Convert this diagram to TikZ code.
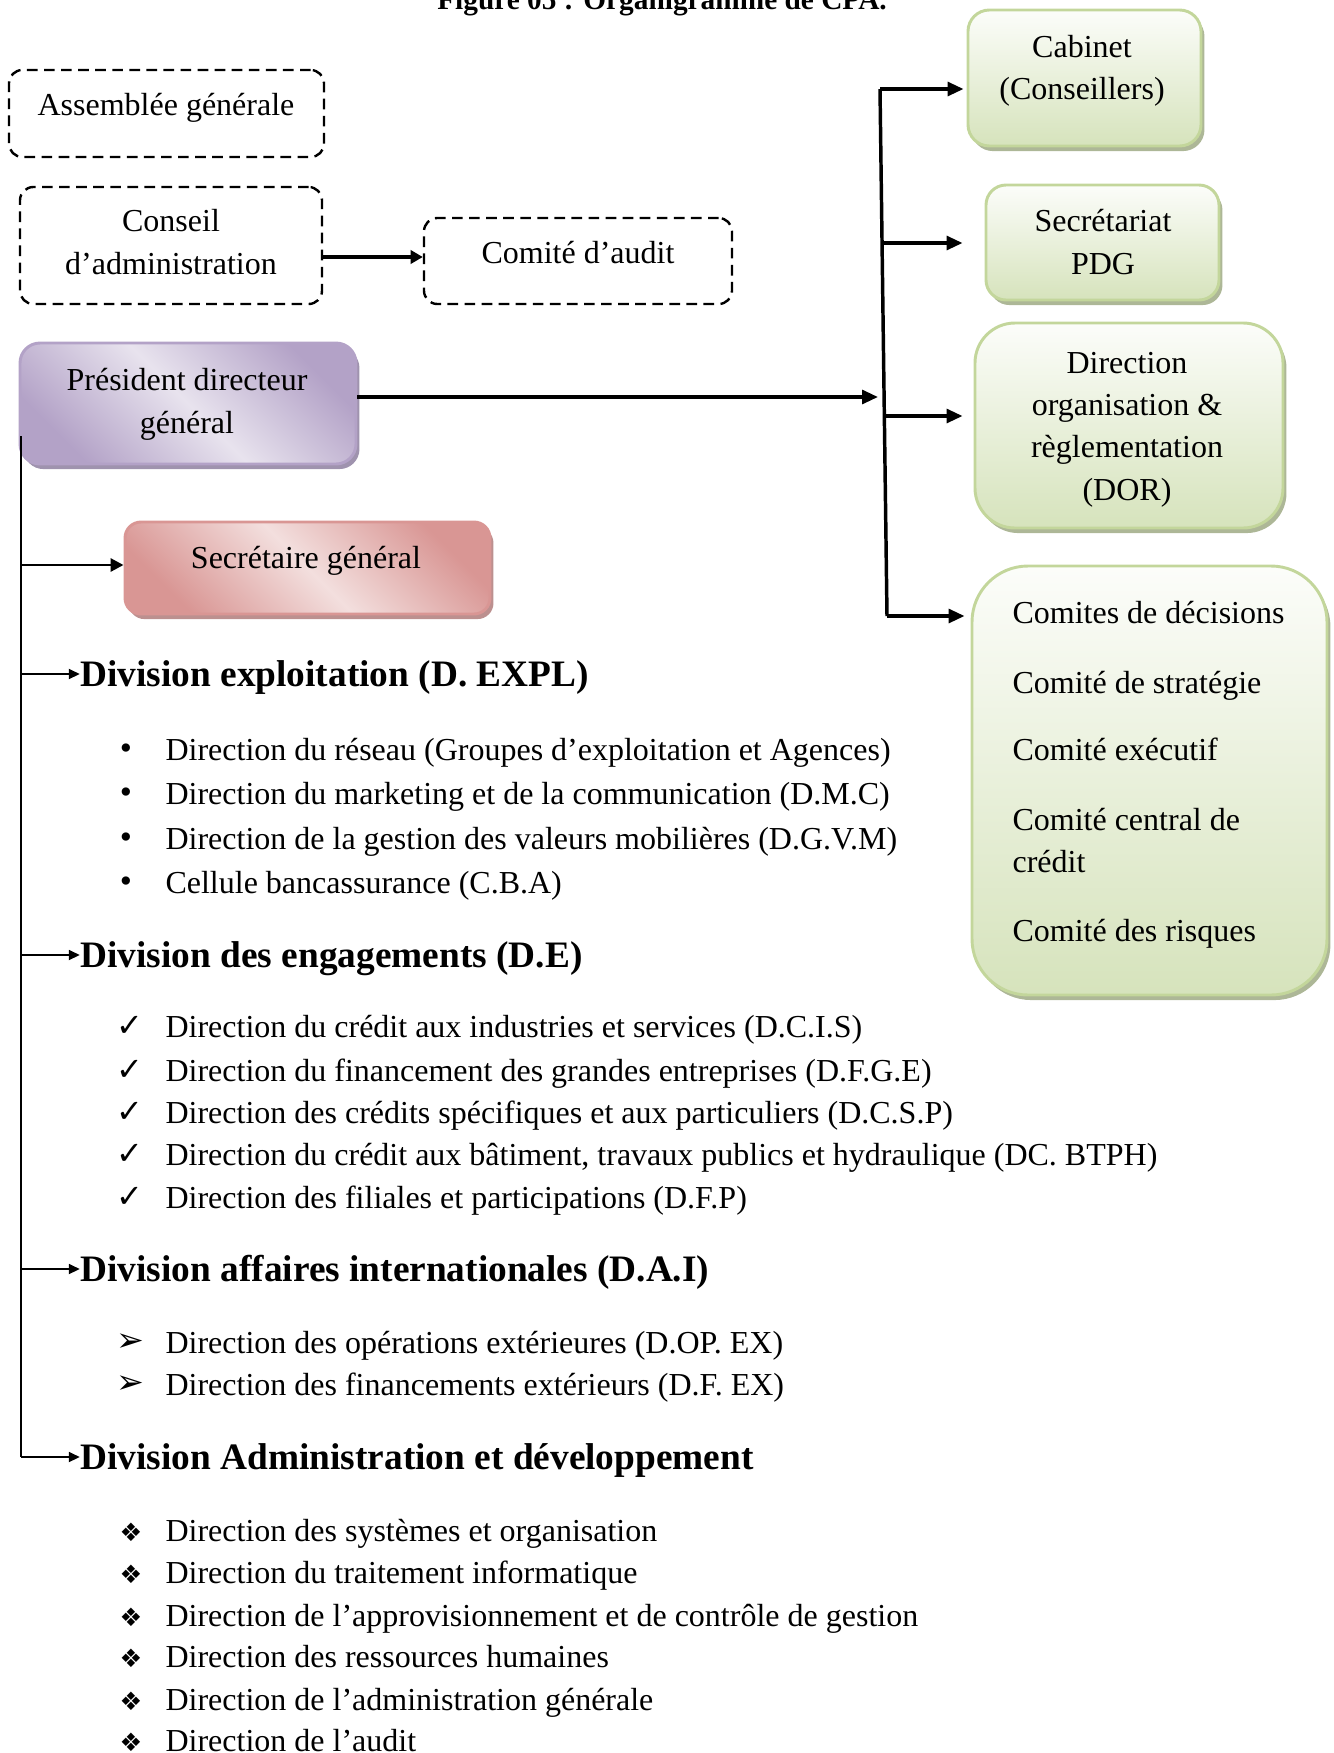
\documentclass[tikz,border=0pt]{standalone}
\usepackage{fontspec}
\setmainfont{Liberation Serif}
\newfontfamily\dingfont{DejaVu Sans}
\usetikzlibrary{arrows.meta,shadows,fit,calc}

\definecolor{grnTop}{HTML}{FCFDFA}
\definecolor{grnBot}{HTML}{D6E3BC}
\definecolor{grnLine}{HTML}{C3D69B}
\definecolor{grnShadow}{HTML}{A9B391}
\definecolor{purDark}{HTML}{B3A2C7}
\definecolor{purLight}{HTML}{E8E3EE}
\definecolor{purShadow}{HTML}{9A8DAA}
\definecolor{redDark}{HTML}{D99694}
\definecolor{redLight}{HTML}{F3DFDE}
\definecolor{redShadow}{HTML}{B88A89}

\tikzset{
  txt/.style={font=\fontsize{12}{15.8}\selectfont, text height=9.7pt, text depth=1.1pt},
  item/.style={txt, anchor=west},
  head/.style={font=\bfseries\fontsize{14}{17}\selectfont, text height=11pt, text depth=1.6pt, anchor=west},
  dashbox/.style={draw, line width=0.9pt, dash pattern=on 4pt off 2.4pt, rounded corners=5pt},
  softshadow/.style={drop shadow={shadow xshift=1.3pt, shadow yshift=-1.9pt, fill=#1, opacity=0.95}},
  greenbox/.style={draw=grnLine, line width=1.1pt, top color=grnTop, bottom color=grnBot, softshadow=grnShadow},
  pdgbox/.style={draw=purDark, line width=1.1pt, rounded corners=7.5pt, top color=purDark, bottom color=purDark, middle color=purLight, shading angle=-45, softshadow=purShadow},
  sgbox/.style={draw=redDark, line width=1.1pt, rounded corners=6pt, top color=redDark, bottom color=redDark, middle color=redLight, shading angle=-45, softshadow=redShadow},
  conn/.style={line width=1.3pt},
  arrR/.style={conn, -{Triangle[length=6pt,width=5.2pt]}},
  arrC/.style={line width=1.5pt, -{Triangle[length=4.6pt,width=5pt]}},
  lineL/.style={line width=1.1pt},
  arrL/.style={lineL, -{Triangle[length=4.2pt,width=3.6pt]}},
  arrS/.style={lineL, -{Triangle[length=4.8pt,width=4.8pt]}},
  dotsym/.style={font=\fontsize{13}{15}\selectfont},
  checksym/.style={font=\dingfont\fontsize{12}{14}\selectfont},
  headsym/.style={font=\dingfont\fontsize{12.5}{14}\selectfont},
  diasym/.style={font=\dingfont\fontsize{9.5}{11}\selectfont},
}

\begin{document}
\begin{tikzpicture}[x=0.375pt, y=-0.375pt, every node/.style={inner sep=0pt}]
\useasboundingbox (0,0) rectangle (1334,1753);

% caption
\node[font=\bfseries\fontsize{11}{13}\selectfont, anchor=base] (title) at (662,9) {Figure 05 : Organigramme de CPA.};

% governance boxes (dashed)
\node[dashbox, fit={(9,70) (324,157)}] (ag) {};
\node[txt] (agT) at (166,104) {Assemblée générale};
\node[dashbox, fit={(20,187) (322,304)}] (ca) {};
\node[txt] (caT1) at (171,220) {Conseil};
\node[txt] (caT2) at (171,263) {d’administration};
\node[dashbox, fit={(424,218) (732,304)}] (cd) {};
\node[txt] (cdT) at (578,252) {Comité d’audit};
\coordinate (yca) at (0,257);
\draw[arrC] (ca.east |- yca) -- (cd.west |- yca);

% general management
\node[pdgbox, fit={(20,343) (356,464)}] (pdg) {};
\node[txt] (pdgT1) at (187,379) {Président directeur};
\node[txt] (pdgT2) at (187,422) {général};
\node[sgbox, fit={(125,522) (490,614)}] (sg) {};
\node[txt] (sgT) at (306,557) {Secrétaire général};

% staff units on the right
\node[greenbox, rounded corners=8pt, fit={(968,10) (1201,146)}] (cab) {};
\node[txt] (cabT1) at (1082,46) {Cabinet};
\node[txt] (cabT2) at (1082,88) {(Conseillers)};
\node[greenbox, rounded corners=7.5pt, fit={(986,185) (1219,300)}] (sp) {};
\node[txt] (spT1) at (1103,220) {Secrétariat};
\node[txt] (spT2) at (1103,263) {PDG};
\node[greenbox, rounded corners=15pt, fit={(975,323) (1283,528)}] (dor) {};
\node[txt] (dorT1) at (1127,362) {Direction};
\node[txt] (dorT2) at (1127,404) {organisation \&};
\node[txt] (dorT3) at (1127,446) {règlementation};
\node[txt] (dorT4) at (1127,489) {(DOR)};
\node[greenbox, rounded corners=21pt, fit={(972,566) (1327,995)}] (cm) {};
\node[item] (cmT1) at (1012,612) {Comites de décisions};
\node[item] (cmT2) at (1012,682) {Comité de stratégie};
\node[item] (cmT3) at (1012,749) {Comité exécutif};
\node[item] (cmT4) at (1012,819) {Comité central de};
\node[item] (cmT5) at (1012,861) {crédit};
\node[item] (cmT6) at (1012,930) {Comité des risques};

% right-hand bus
\coordinate (rt) at (880,89);
\coordinate (rb) at (887,616);
\coordinate (r2) at (882,243);
\coordinate (r3) at (884.3,416);
\coordinate (rp) at (878,397);
\draw[conn] (rt) -- (rb);
\draw[arrR] (rt) -- ($(cab.west |- rt)+(-3,0)$);
\draw[arrR] (r2) -- ($(sp.west |- r2)+(-22,0)$);
\draw[arrR] (r3) -- ($(dor.west |- r3)+(-11,0)$);
\draw[arrR] (rb) -- ($(cm.west |- rb)+(-6,0)$);
\draw[arrR] (pdg.east |- rp) -- (rp);

% divisions
\node[head] (h1) at (80,674) {Division exploitation (D. EXPL)};
\node[head] (h2) at (80,955) {Division des engagements (D.E)};
\node[head] (h3) at (80,1269) {Division affaires internationales (D.A.I)};
\node[head] (h4) at (80,1457) {Division Administration et développement};

% left-hand bus
\coordinate (lt) at (21,436);
\coordinate (lb) at (21,1457);
\coordinate (ysg) at (0,565);
\draw[lineL] (lt) -- (lb);
\draw[arrS] (lt |- ysg) -- (sg.west |- ysg);
\draw[arrL] (lt |- h1.west) -- (h1.west);
\draw[arrL] (lt |- h2.west) -- (h2.west);
\draw[arrL] (lt |- h3.west) -- (h3.west);
\draw[arrL] (lb) -- (h4.west);

% Division exploitation
\node[dotsym] (b11) at (126,752) {•};
\node[item] (t11) at (165,749) {Direction du réseau (Groupes d’exploitation et Agences)};
\node[dotsym] (b12) at (126,796) {•};
\node[item] (t12) at (165,793) {Direction du marketing et de la communication (D.M.C)};
\node[dotsym] (b13) at (126,841) {•};
\node[item] (t13) at (165,838) {Direction de la gestion des valeurs mobilières (D.G.V.M)};
\node[dotsym] (b14) at (126,885) {•};
\node[item] (t14) at (165,882) {Cellule bancassurance (C.B.A)};

% Division des engagements
\node[checksym] (b21) at (130,1026) {✓};
\node[item] (t21) at (165,1026) {Direction du crédit aux industries et services (D.C.I.S)};
\node[checksym] (b22) at (130,1070) {✓};
\node[item] (t22) at (165,1070) {Direction du financement des grandes entreprises (D.F.G.E)};
\node[checksym] (b23) at (130,1112) {✓};
\node[item] (t23) at (165,1112) {Direction des crédits spécifiques et aux particuliers (D.C.S.P)};
\node[checksym] (b24) at (130,1154) {✓};
\node[item] (t24) at (165,1154) {Direction du crédit aux bâtiment, travaux publics et hydraulique (DC. BTPH)};
\node[checksym] (b25) at (130,1197) {✓};
\node[item] (t25) at (165,1197) {Direction des filiales et participations (D.F.P)};

% Division affaires internationales
\node[headsym] (b31) at (130,1343) {➢};
\node[item] (t31) at (165,1342) {Direction des opérations extérieures (D.OP. EX)};
\node[headsym] (b32) at (130,1385) {➢};
\node[item] (t32) at (165,1384) {Direction des financements extérieurs (D.F. EX)};

% Division Administration et développement
\node[diasym] (b41) at (131,1532) {❖};
\node[item] (t41) at (165,1530) {Direction des systèmes et organisation};
\node[diasym] (b42) at (131,1574) {❖};
\node[item] (t42) at (165,1572) {Direction du traitement informatique};
\node[diasym] (b43) at (131,1617) {❖};
\node[item] (t43) at (165,1615) {Direction de l’approvisionnement et de contrôle de gestion};
\node[diasym] (b44) at (131,1658) {❖};
\node[item] (t44) at (165,1656) {Direction des ressources humaines};
\node[diasym] (b45) at (131,1701) {❖};
\node[item] (t45) at (165,1699) {Direction de l’administration générale};
\node[diasym] (b46) at (131,1742) {❖};
\node[item] (t46) at (165,1740) {Direction de l’audit};

\end{tikzpicture}
\end{document}
